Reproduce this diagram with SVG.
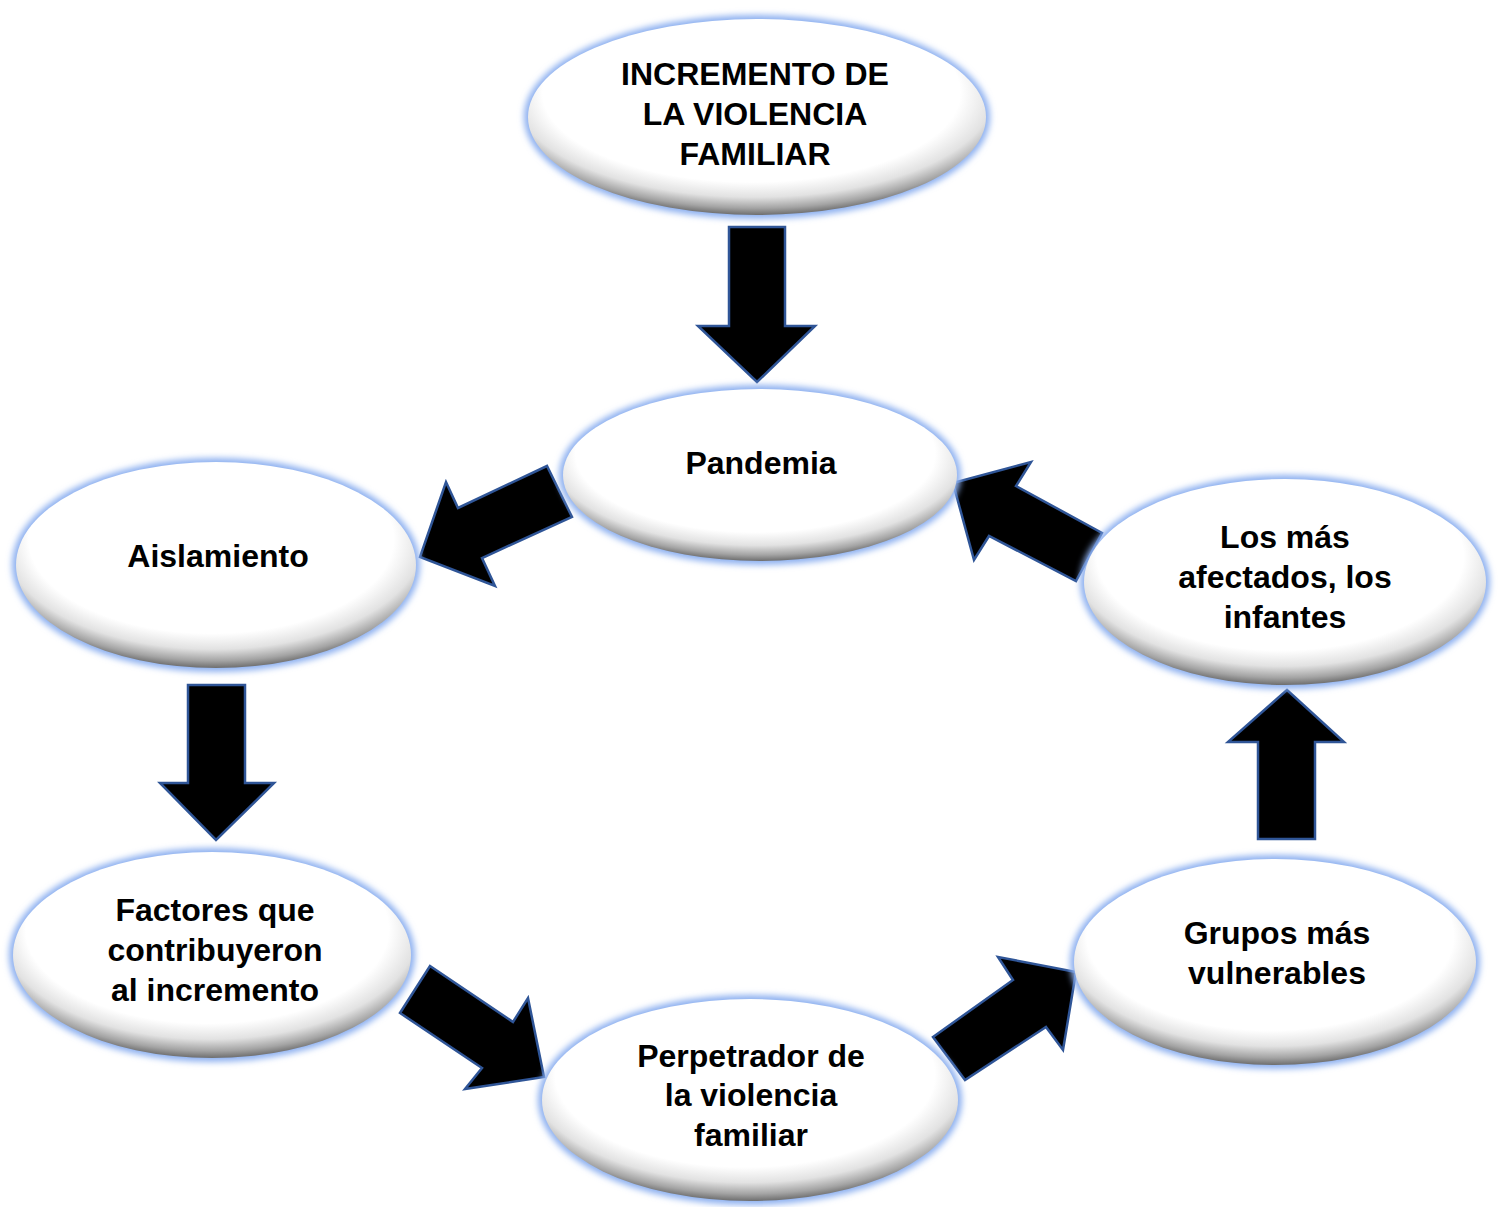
<svg xmlns="http://www.w3.org/2000/svg" width="1501" height="1207" viewBox="0 0 1501 1207">
<defs>
<radialGradient id="bevel" cx="0.5" cy="0.4" r="0.6" fx="0.45" fy="0.3">
<stop offset="0" stop-color="#ffffff"/>
<stop offset="0.76" stop-color="#ffffff"/>
<stop offset="0.87" stop-color="#e2e2e2"/>
<stop offset="0.95" stop-color="#a4a4a4"/>
<stop offset="1" stop-color="#6e6e6e"/>
</radialGradient>
<filter id="glow" x="-10%" y="-15%" width="120%" height="130%">
<feGaussianBlur stdDeviation="3"/>
</filter>
<style>
.glow{fill:#8db0f0;filter:url(#glow)}
.body{fill:url(#bevel)}
.lbl{font-family:"Liberation Sans",Arial,sans-serif;font-weight:bold;font-size:32px;fill:#000;text-anchor:middle}
.arr{fill:#000;stroke:#2f5597;stroke-width:2.5;stroke-linejoin:miter}
</style>
</defs>
<rect width="1501" height="1207" fill="#fff"/>
<g id="connectors">
<polygon class="arr" points="729,227 785,227 785,326 815,326 757,382 698,326 729,326"/>
<polygon class="arr" points="547,466 458,508 446,482 420,557 495,586 482,558 572,517"/>
<polygon class="arr" points="953,483 1031,462 1016,486 1102,533 1076,581 989,536 974,560"/>
<polygon class="arr" points="188,685 245,685 245,783 274,783 216,840 160,783 188,783"/>
<polygon class="arr" points="430,966 513,1022 528,998 544,1077 465,1089 482,1068 400,1013"/>
<polygon class="arr" points="965,1080 933,1037 1013,980 998,957 1076,972 1063,1050 1046,1027"/>
<polygon class="arr" points="1287,690 1344,742 1315,742 1315,839 1258,839 1258,742 1228,742"/>
</g>
<g id="node-incremento">
<ellipse class="glow" cx="757" cy="117" rx="233" ry="102"/>
<ellipse class="body" cx="757" cy="117" rx="229" ry="98"/>
<text class="lbl" x="755" y="85">INCREMENTO DE</text>
<text class="lbl" x="755" y="125">LA VIOLENCIA</text>
<text class="lbl" x="755" y="165">FAMILIAR</text>
</g>
<g id="node-pandemia">
<ellipse class="glow" cx="760" cy="475" rx="201" ry="90"/>
<ellipse class="body" cx="760" cy="475" rx="197" ry="86"/>
<text class="lbl" x="761" y="474">Pandemia</text>
</g>
<g id="node-aislamiento">
<ellipse class="glow" cx="216" cy="565" rx="204" ry="107"/>
<ellipse class="body" cx="216" cy="565" rx="200" ry="103"/>
<text class="lbl" x="218" y="567">Aislamiento</text>
</g>
<g id="node-afectados">
<ellipse class="glow" cx="1285" cy="582" rx="205" ry="107"/>
<ellipse class="body" cx="1285" cy="582" rx="201" ry="103"/>
<text class="lbl" x="1285" y="548">Los más</text>
<text class="lbl" x="1285" y="588">afectados, los</text>
<text class="lbl" x="1285" y="628">infantes</text>
</g>
<g id="node-factores">
<ellipse class="glow" cx="212" cy="955" rx="203" ry="107"/>
<ellipse class="body" cx="212" cy="955" rx="199" ry="103"/>
<text class="lbl" x="215" y="921">Factores que</text>
<text class="lbl" x="215" y="961">contribuyeron</text>
<text class="lbl" x="215" y="1001">al incremento</text>
</g>
<g id="node-perpetrador">
<ellipse class="glow" cx="750" cy="1100" rx="212" ry="105"/>
<ellipse class="body" cx="750" cy="1100" rx="208" ry="101"/>
<text class="lbl" x="751" y="1067">Perpetrador de</text>
<text class="lbl" x="751" y="1106">la violencia</text>
<text class="lbl" x="751" y="1146">familiar</text>
</g>
<g id="node-grupos">
<ellipse class="glow" cx="1275" cy="962" rx="205" ry="107"/>
<ellipse class="body" cx="1275" cy="962" rx="201" ry="103"/>
<text class="lbl" x="1277" y="944">Grupos más</text>
<text class="lbl" x="1277" y="984">vulnerables</text>
</g>
</svg>
